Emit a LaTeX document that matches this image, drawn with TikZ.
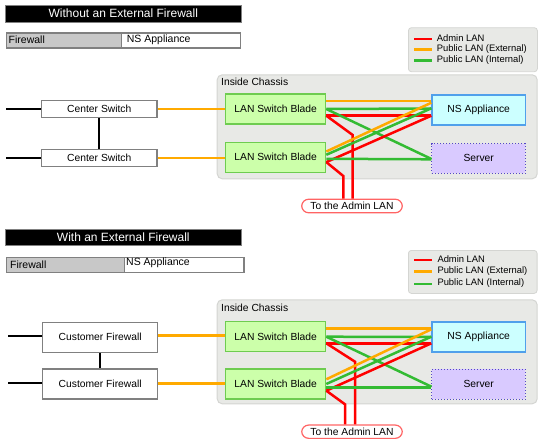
\documentclass[tikz,border=0pt]{standalone}
\usepackage{fontspec}
\setmainfont{Liberation Sans}
\usetikzlibrary{calc}
\definecolor{cadmin}{RGB}{255,0,0}
\definecolor{cext}{RGB}{255,170,0}
\definecolor{cint}{RGB}{51,187,51}
\definecolor{bladefill}{RGB}{204,255,170}
\definecolor{bladeline}{RGB}{110,204,80}
\definecolor{nsfill}{RGB}{204,255,255}
\definecolor{nsline}{RGB}{80,160,235}
\definecolor{srvfill}{RGB}{217,202,255}
\definecolor{srvline}{RGB}{85,70,200}
\definecolor{chfill}{RGB}{232,233,230}
\definecolor{chline}{RGB}{212,213,210}
\definecolor{boxgray}{RGB}{128,128,128}
\definecolor{barfill}{RGB}{200,200,200}
\definecolor{pillline}{RGB}{255,100,100}
\begin{document}
\begin{tikzpicture}[x=1pt,y=-1pt,
  txt/.style={font=\fontsize{10.3}{12}\selectfont},
  titlebar/.style={fill=black,draw=boxgray,line width=0.8pt,text=white,font=\fontsize{12}{14}\selectfont,inner sep=0pt,minimum width=235.3pt},
  barbox/.style={draw=boxgray,line width=1.2pt,inner sep=0pt,minimum height=15pt,anchor=north west},
  bartxt/.style={font=\fontsize{10.5}{12}\selectfont,inner sep=0pt,anchor=west},
  legendbox/.style={fill=chfill,draw=chline,line width=0.8pt,rounded corners=3pt,inner sep=0pt,anchor=north west},
  legtxt/.style={font=\fontsize{9.4}{11}\selectfont,inner sep=0pt,anchor=west},
  chassis/.style={fill=chfill,draw=chline,line width=1pt,rounded corners=5pt,inner sep=0pt,anchor=north west},
  blade/.style={txt,fill=bladefill,draw=bladeline,line width=1.2pt,minimum width=100pt,minimum height=30pt,inner sep=0pt},
  nsbox/.style={txt,fill=nsfill,draw=nsline,line width=1.2pt,minimum width=93.5pt,minimum height=30pt,inner sep=0pt},
  srvbox/.style={txt,fill=srvfill,draw=srvline,line width=1pt,dotted,minimum width=93.5pt,minimum height=29.5pt,inner sep=0pt},
  swbox/.style={txt,fill=white,draw=boxgray,line width=1.2pt,minimum width=115.3pt,inner sep=0pt},
  pill/.style={txt,fill=white,draw=pillline,line width=1.2pt,rounded corners=7pt,minimum width=100.6pt,minimum height=13.6pt,inner sep=0pt},
  adminl/.style={draw=cadmin,line width=2.5pt},
  extl/.style={draw=cext,line width=2.5pt},
  intl/.style={draw=cint,line width=2.5pt},
  blackl/.style={draw=black,line width=2pt}]
\useasboundingbox (0,0) rectangle (550,447);

%%%%%%%%%%%%%%%% TOP SECTION %%%%%%%%%%%%%%%%
\node[titlebar,minimum height=17.3pt] (title1) at (123.3,13.6) {Without an External Firewall};
\node[barbox,fill=barfill,minimum width=115pt] (fwA1) at (5.7,32.3) {};
\node[barbox,fill=white,minimum width=119.5pt] (nsA1) at (120.7,32.3) {};
\node[bartxt] (fwA1t) at (8.5,40) {Firewall};
\node[bartxt] (nsA1t) at (126.7,40) {NS Appliance};

\node[legendbox,minimum width=129pt,minimum height=44pt] (leg1) at (408,27.3) {};
\draw[adminl] (414,39) -- (432,39);
\draw[extl] (414,49.5) -- (432,49.5);
\draw[intl] (414,60.5) -- (432,60.5);
\node[legtxt] (l1a) at (436.7,38) {Admin LAN};
\node[legtxt] (l1b) at (436.7,49) {Public LAN (External)};
\node[legtxt] (l1c) at (436.7,60) {Public LAN (Internal)};

\node[chassis,minimum width=320pt,minimum height=104pt] (ch1) at (216.7,74.3) {};
\node[txt,inner sep=0pt,anchor=west] (ch1t) at (221,82) {Inside Chassis};

\node[blade] (b1) at (275.7,109) {LAN Switch Blade};
\node[blade] (b2) at (275.7,157.3) {LAN Switch Blade};
\node[nsbox] (ns1) at (478.7,110) {NS Appliance};
\node[srvbox] (sv1) at (478.7,158.3) {Server};
\node[swbox,minimum height=16.6pt] (sw1) at (99.3,109) {Center Switch};
\node[swbox,minimum height=17pt] (sw2) at (99.3,158) {Center Switch};
\node[pill] (adm1) at (352,206) {To the Admin LAN};

\coordinate (le1) at (6,109.3);
\coordinate (le2) at (6,157.7);
\draw[blackl] (le1) -- (le1 -| sw1.west);
\draw[blackl] (le2) -- (le2 -| sw2.west);
\draw[blackl] (sw1.south) -- (sw2.north);
\draw[extl] (sw1.east) -- (sw1.east -| b1.west);
\draw[extl] (sw2.east) -- (sw2.east -| b2.west);

\draw[extl] ([yshift=8pt]b1.east) -- ([yshift=9pt]ns1.west);
\draw[intl] ([yshift=0pt]b1.east) -- ([yshift=1.5pt]ns1.west);
\draw[adminl] ([yshift=-6.7pt]b1.east) -- ([yshift=-5.7pt]ns1.west);
\draw[intl] ([yshift=0pt]b1.east) -- ([yshift=-0.7pt]sv1.west);
\coordinate (k1) at (352.7,135);
\draw[adminl] ([yshift=-6.7pt]b1.east) -- (k1) -- (k1 |- adm1.north);

\draw[extl] ([yshift=5.8pt]b2.east) -- ([yshift=7.3pt]ns1.west);
\draw[intl] ([yshift=2.5pt]b2.east) -- ([yshift=1.7pt]ns1.west);
\draw[adminl] ([yshift=-4.8pt]b2.east) -- ([yshift=-5.7pt]ns1.west);
\draw[intl] ([yshift=-1.5pt]b2.east) -- ([yshift=-1pt]sv1.west);
\coordinate (k2) at (343.3,176);
\draw[adminl] ([yshift=-4.8pt]b2.east) -- (k2) -- (k2 |- adm1.north);

%%%%%%%%%%%%%%%% BOTTOM SECTION %%%%%%%%%%%%%%%%
\node[titlebar,minimum height=16.4pt] (title2) at (123.3,237.5) {With an External Firewall};
\node[barbox,fill=barfill,minimum width=118.3pt] (fwA2) at (5.7,256.7) {};
\node[barbox,fill=white,minimum width=119.3pt] (nsA2) at (124,256.7) {};
\node[bartxt] (fwA2t) at (10,264.8) {Firewall};
\node[bartxt] (nsA2t) at (126,262.5) {NS Appliance};

\node[legendbox,minimum width=128.7pt,minimum height=43pt] (leg2) at (408,250) {};
\draw[adminl] (414,260) -- (432,260);
\draw[extl] (414,271.7) -- (432,271.7);
\draw[intl] (414,284) -- (432,284);
\node[legtxt] (l2a) at (437.3,259.5) {Admin LAN};
\node[legtxt] (l2b) at (437.3,271) {Public LAN (External)};
\node[legtxt] (l2c) at (437.3,283) {Public LAN (Internal)};

\node[chassis,minimum width=320pt,minimum height=104pt] (ch2) at (216.7,299.3) {};
\node[txt,inner sep=0pt,anchor=west] (ch2t) at (221,307.5) {Inside Chassis};

\node[blade] (b3) at (275.7,336.7) {LAN Switch Blade};
\node[blade] (b4) at (275.7,384) {LAN Switch Blade};
\node[nsbox] (ns2) at (478.7,337) {NS Appliance};
\node[srvbox,minimum height=30pt] (sv2) at (478.7,384) {Server};
\node[swbox,minimum height=30pt,minimum width=115pt] (fw1) at (100.2,337.3) {Customer Firewall};
\node[swbox,minimum height=30pt,minimum width=115pt] (fw2) at (100.2,384) {Customer Firewall};
\node[pill,minimum height=13.3pt] (adm2) at (352,431.7) {To the Admin LAN};

\coordinate (le3) at (8,335.7);
\coordinate (le4) at (8,383.3);
\draw[blackl] (le3) -- (le3 -| fw1.west);
\draw[blackl] (le4) -- (le4 -| fw2.west);
\draw[blackl] (fw1.south) -- (fw2.north);
\draw[extl] (le3 -| fw1.east) -- (le3 -| b3.west);
\draw[extl] (le4 -| fw2.east) -- (le4 -| b4.west);

\draw[extl] ([yshift=8.4pt]b3.east) -- ([yshift=8.7pt]ns2.west);
\draw[intl] ([yshift=0pt]b3.east) -- ([yshift=0pt]ns2.west);
\draw[adminl] ([yshift=-6.6pt]b3.east) -- ([yshift=-6.3pt]ns2.west);
\draw[intl] ([yshift=0pt]b3.east) -- ([yshift=-2.7pt]sv2.west);
\coordinate (k3) at (355,361.7);
\draw[adminl] ([yshift=-6.6pt]b3.east) -- (k3) -- (k3 |- adm2.north);

\draw[extl] ([yshift=4.7pt]b4.east) -- ([yshift=7.7pt]ns2.west);
\draw[intl] ([yshift=0pt]b4.east) -- ([yshift=0.3pt]ns2.west);
\draw[adminl] ([yshift=-6.7pt]b4.east) -- ([yshift=-6.3pt]ns2.west);
\draw[intl] ([yshift=-3.3pt]b4.east) -- ([yshift=-3.3pt]sv2.west);
\coordinate (k4) at (345,404.3);
\draw[adminl] ([yshift=-6.7pt]b4.east) -- (k4) -- (k4 |- adm2.north);

\end{tikzpicture}
\end{document}
